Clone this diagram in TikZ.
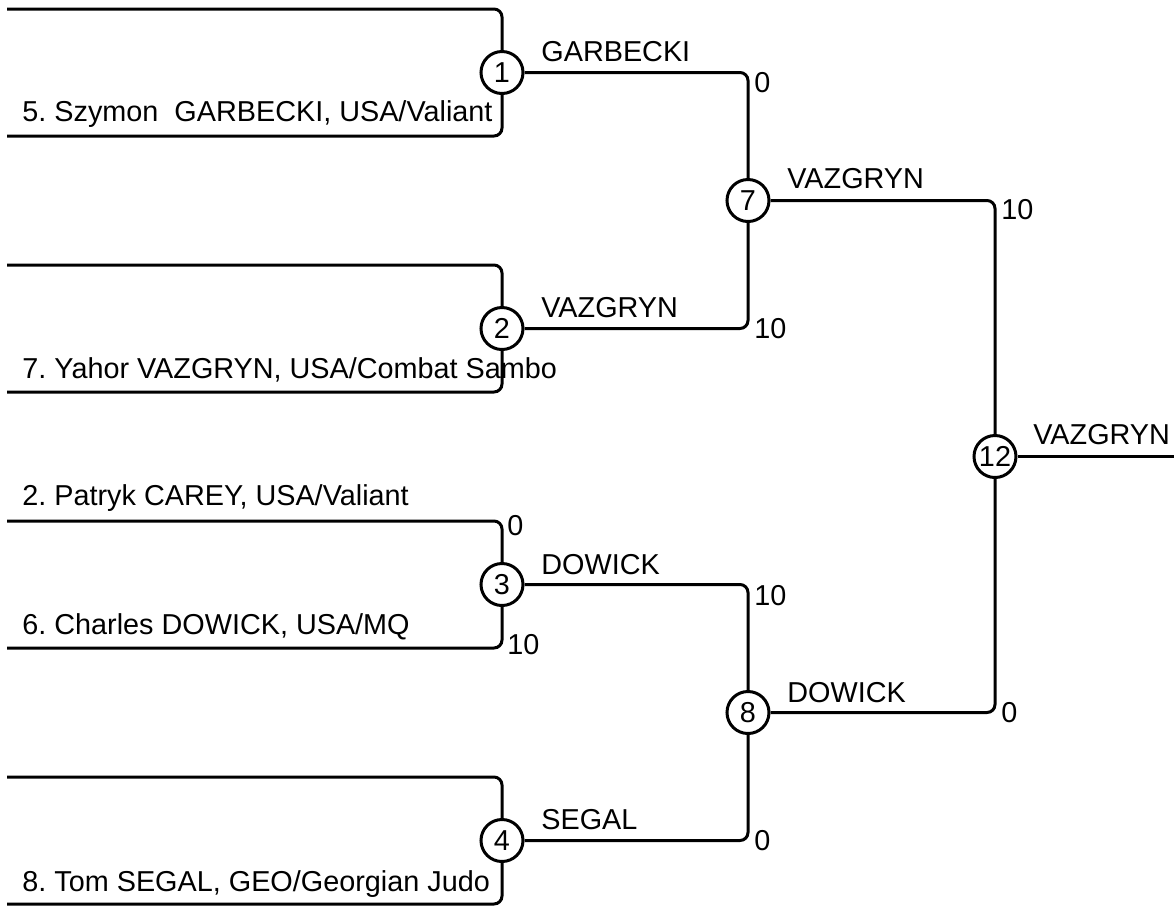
\documentclass[tikz,border=0pt]{standalone}
\usepackage{fontspec}
\setmainfont{Liberation Sans}
\usetikzlibrary{positioning}

\def\labfont{\fontsize{14.4pt}{16pt}\selectfont}

\tikzset{
  bout/.style={draw, circle, line width=1.5pt, minimum size=21pt, inner sep=0pt, font=\labfont},
  bline/.style={line width=1.5pt, rounded corners=4pt},
  lab/.style={font=\labfont, inner sep=0pt, anchor=base west},
}

\begin{document}
\frenchspacing
\begin{tikzpicture}[x=0.5pt,y=-0.5pt]
\useasboundingbox (0,0) rectangle (1174,907);

% bouts
\node[bout] (b1) at (502,72.5) {1};
\node[bout] (b2) at (502,328.5) {2};
\node[bout] (b3) at (502,584.5) {3};
\node[bout] (b4) at (502,840.5) {4};
\node[bout] (b7) at (748,200.5) {7};
\node[bout] (b8) at (748,712.5) {8};
\node[bout] (b12) at (995,456.5) {12};

% free ends of the first round
\coordinate (s1a) at (7,9);
\coordinate (s1b) at (7,136);
\coordinate (s2a) at (7,265);
\coordinate (s2b) at (7,392);
\coordinate (s3a) at (7,521);
\coordinate (s3b) at (7,648);
\coordinate (s4a) at (7,777);
\coordinate (s4b) at (7,904);
\coordinate (fin) at (1174,456.5);

% competitors
\node[lab] (n5) at (22,121) {5. Szymon\ \ GARBECKI, USA/Valiant};
\node[lab] (n7) at (22,378) {7. Yahor VAZGRYN, USA/Combat Sambo};
\node[lab] (n2) at (22,505) {2. Patryk CAREY, USA/Valiant};
\node[lab] (n6) at (22,634) {6. Charles DOWICK, USA/MQ};
\node[lab] (n8) at (22,891) {8. Tom SEGAL, GEO/Georgian Judo};

% winners
\node[lab] (w1) at (541,61) {GARBECKI};
\node[lab] (w2) at (541,317) {VAZGRYN};
\node[lab] (w3) at (541,574) {DOWICK};
\node[lab] (w4) at (541,829) {SEGAL};
\node[lab] (w7) at (787,188) {VAZGRYN};
\node[lab] (w8) at (787,702) {DOWICK};
\node[lab] (w12) at (1033,444) {VAZGRYN};

% scores
\node[lab] (p3a) at (507,535) {0};
\node[lab] (p3b) at (507,654) {10};
\node[lab] (p7a) at (754,92) {0};
\node[lab] (p7b) at (754,338) {10};
\node[lab] (p8a) at (754,605) {10};
\node[lab] (p8b) at (754,850) {0};
\node[lab] (p12a) at (1001,219) {10};
\node[lab] (p12b) at (1001,722) {0};

\draw[bline] (s1a) -| (b1);
\draw[bline] (s1b) -| (b1);
\draw[bline] (s2a) -| (b2);
\draw[bline] (s2b) -| (b2);
\draw[bline] (s3a) -| (b3);
\draw[bline] (s3b) -| (b3);
\draw[bline] (s4a) -| (b4);
\draw[bline] (s4b) -| (b4);
\draw[bline] (b1) -| (b7);
\draw[bline] (b2) -| (b7);
\draw[bline] (b3) -| (b8);
\draw[bline] (b4) -| (b8);
\draw[bline] (b7) -| (b12);
\draw[bline] (b8) -| (b12);
\draw[bline] (b12) -- (fin);
\end{tikzpicture}
\end{document}
